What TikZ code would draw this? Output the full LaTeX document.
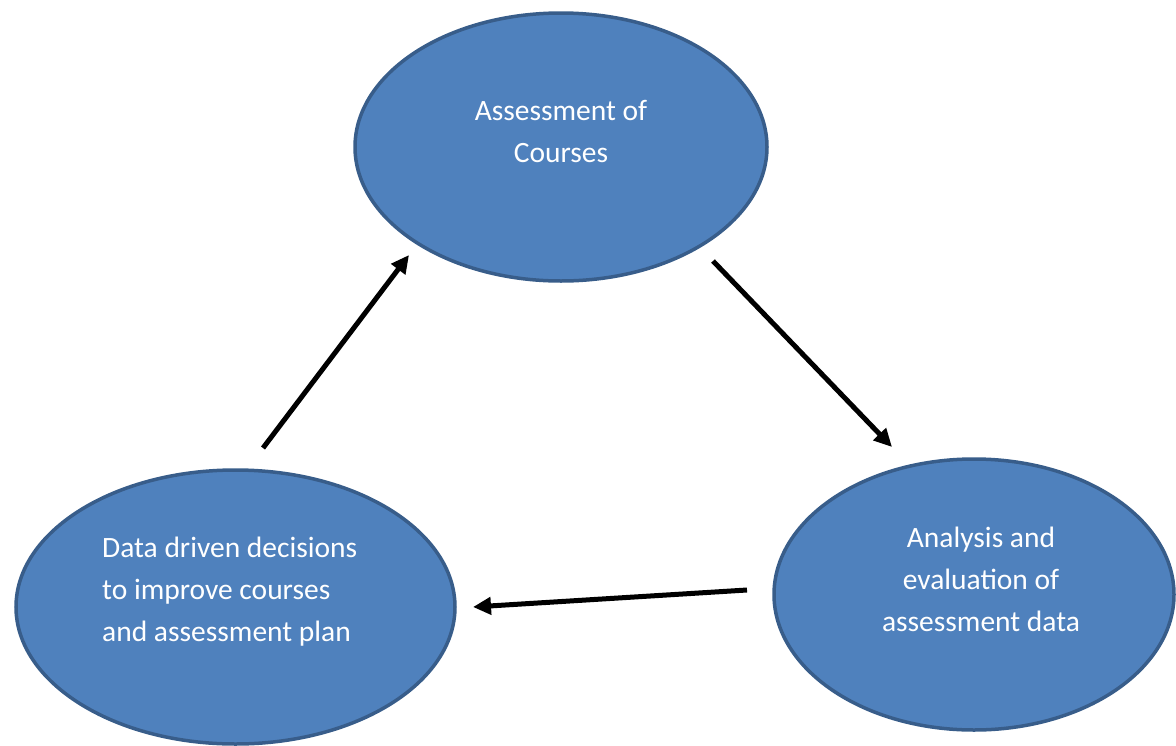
\documentclass[tikz,border=0pt]{standalone}
\usepackage{fontspec}
\setmainfont{Carlito}
\usetikzlibrary{shapes.geometric,arrows.meta}
\definecolor{ellfill}{HTML}{4F81BD}
\definecolor{elldraw}{HTML}{385D8A}
\tikzset{
  blob/.style={ellipse, draw=elldraw, fill=ellfill, line width=3.5pt, inner sep=0pt},
  lbl/.style={text=white, inner sep=0pt, font=\fontsize{29.5}{42}\selectfont},
  flow/.style={line width=5pt, -{Triangle[length=18pt,width=17pt]}}
}
\begin{document}
\begin{tikzpicture}[x=1pt,y=-1pt]
\useasboundingbox (0,0) rectangle (1176,745);
\node[blob, minimum width=412pt, minimum height=268pt] (top) at (561,147) {};
\node[blob, minimum width=400pt, minimum height=271pt] (right) at (974,594.5) {};
\node[blob, minimum width=439pt, minimum height=274pt] (left) at (235.5,607) {};
\node[lbl, align=center] (toptext) at (561,131.5) {Assessment of\\Courses};
\node[lbl, align=center] (righttext) at (981,579.5) {Analysis and\\evaluation of\\assessment data};
\node[lbl, align=left, anchor=west] (lefttext) at (102,592) {Data driven decisions\\to improve courses\\and assessment plan};
\coordinate (a1s) at (263,448);
\coordinate (a1e) at (409,255);
\coordinate (a2s) at (713,261);
\coordinate (a2e) at (892,447);
\coordinate (a3s) at (747,590);
\coordinate (a3e) at (473,607);
\draw[flow] (a1s) -- (a1e);
\draw[flow] (a2s) -- (a2e);
\draw[flow] (a3s) -- (a3e);
\end{tikzpicture}
\end{document}
